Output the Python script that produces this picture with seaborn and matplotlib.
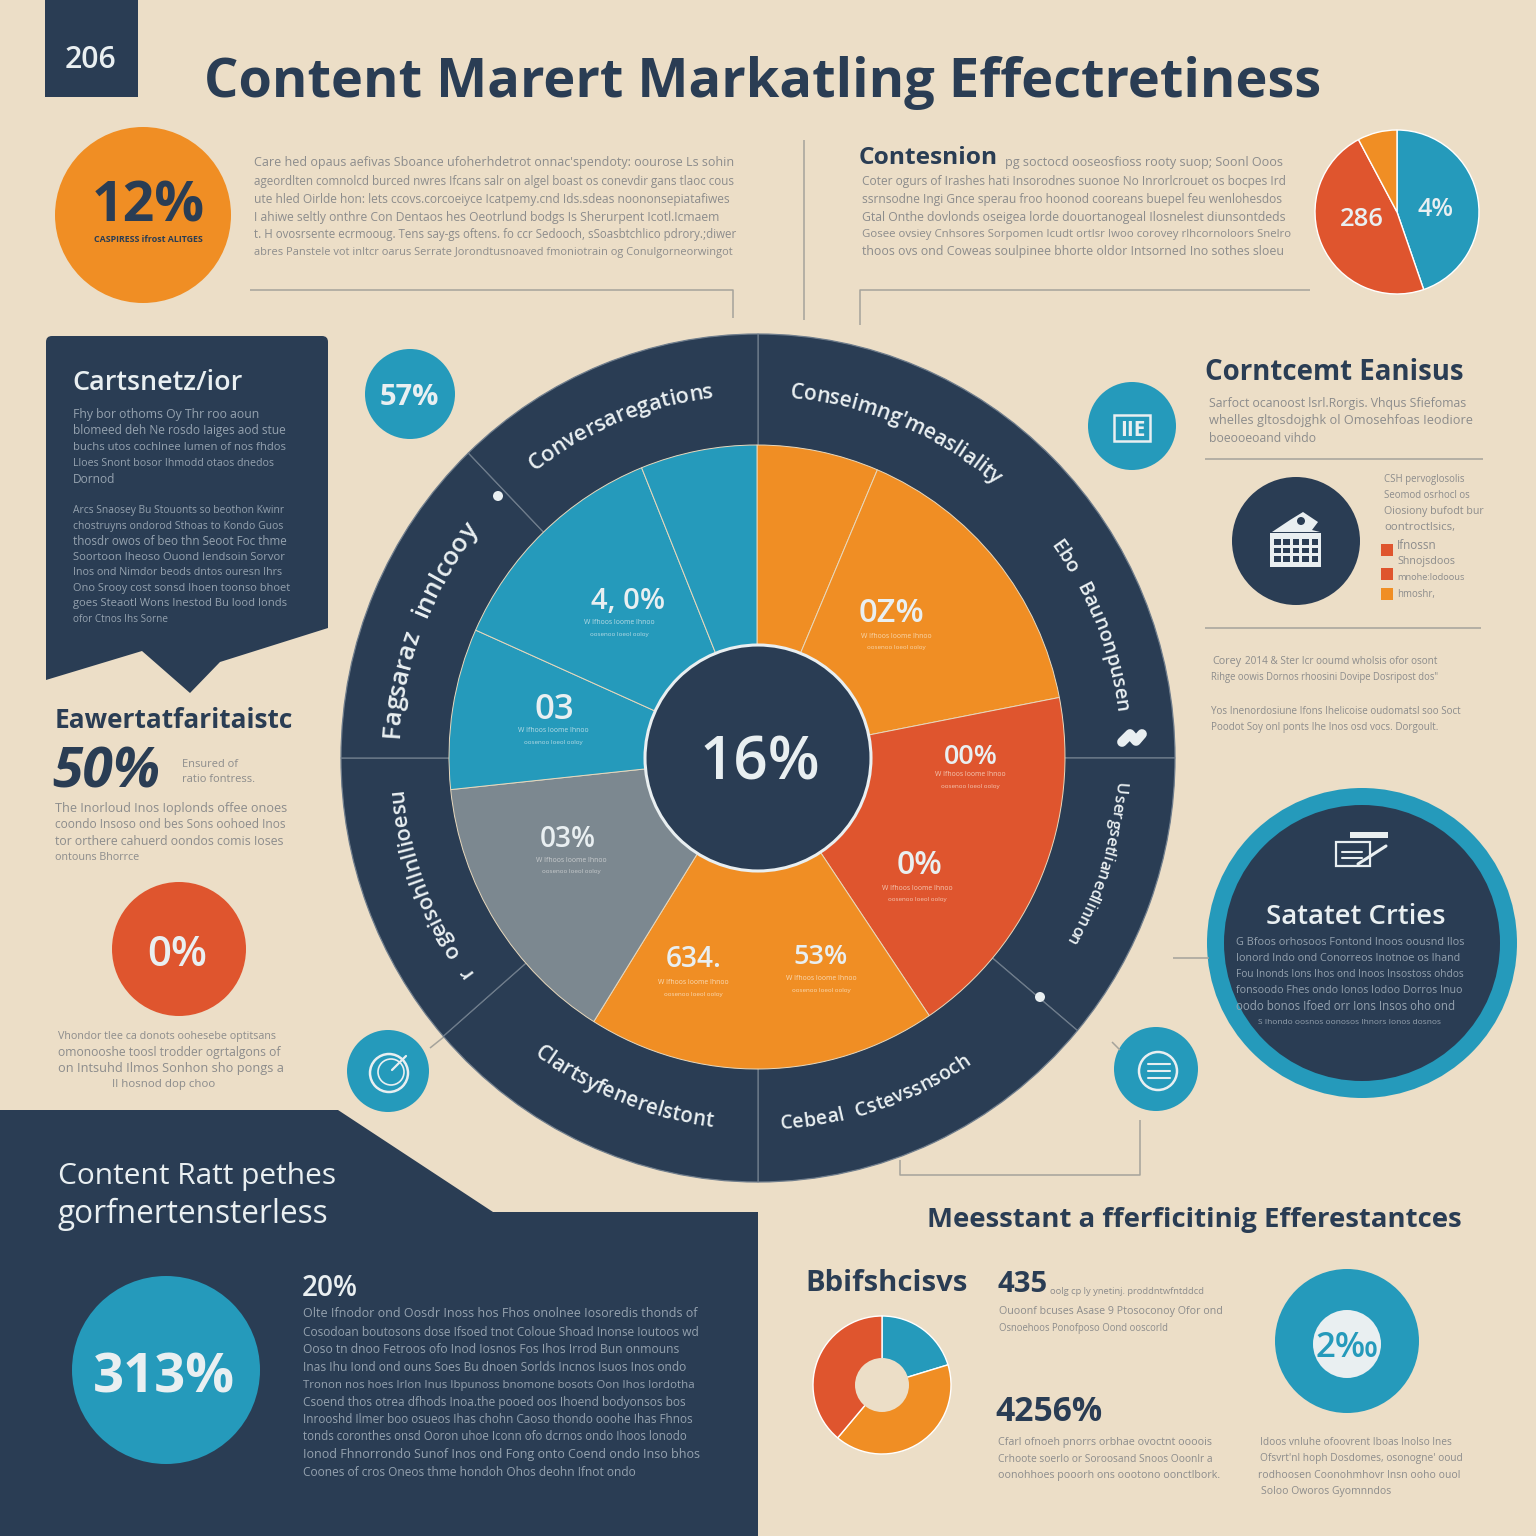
import numpy as np
import matplotlib
matplotlib.use("Agg")
import matplotlib.pyplot as plt
from matplotlib.patches import Circle, Polygon, Rectangle, FancyBboxPatch
import seaborn as sns

# ---------- data ----------
main_values = [23, 56, 67, 66, 52, 30, 44, 22]
ring_values = [90, 40, 50, 49, 41, 46, 44]
top_pie_values = [161, 171, 28]
donut_values = [73, 147, 140]

main_labels = ["4, 0%", "03", "03%", "0Z%", "00%", "0%", "634.", "53%"]
ring_labels_cw = ["Conversaregations", "Conseimng'measliality", "Ebo Baunonpusen",
                  "Usergsetlianedlinnon", "r ogeisohllnllioesu", "Fagsaraz innlcooy"]
ring_labels_bottom = ["Cebeal Cstevssnsoch", "Clartsyfenerelstont"]

title = "Content Marert Markatling Effectretiness"
para_top_left = ("Care hed opaus aefivas Sboance ufoherhdetrot onnac'spendoty: oourose Ls sohin ageordlten "
    "comnolcd burced nwres Ifcans salr on algel boast os conevdir gans tlaoc cous ute hled Oirlde hon: lets "
    "ccovs.corcoeiyce Icatpemy.cnd Ids.sdeas noononsepiatafiwes I ahiwe seltly onthre Con Dentaos hes "
    "Oeotrlund bodgs Is Sherurpent Icotl.Icmaem t. H ovosrsente ecrmooug. Tens say-gs oftens. fo ccr "
    "Sedooch, sSoasbtchlico pdrory.;diwer abres Panstele vot inltcr oarus Serrate Jorondtusnoaved "
    "fmoniotrain og Conulgorneorwingot soetal elins Foato Woscdoro cantotateal hot buhgneovolidas")
para_top_right = ("Coter ogurs of Irashes hati Insorodnes suonoe No Inrorlcrouet os bocpes Ird ssrnsodne Ingi "
    "Gnce sperau froo hoonod cooreans buepel feu wenlohesdos Gtal Onthe dovlonds oseigea lorde "
    "douortanogeal Ilosnelest diunsontdeds Gosee ovsiey Cnhsores Sorpomen Icudt ortlsr Iwoo "
    "corovey rlhcornoloors Snelro thoos ovs ond Coweas soulpinee bhorte oldor Intsorned Ino "
    "sothes sloeu Tovigronet curgonate Ifnooss roiees ond dconrptnese Ooorelmaenots Ihe cratgo of bes "
    "Invrrns Tuos deseurd pors soctuny ufoliosnese lu orrmoonl Ino dovoste nes Ouredore Goos Sooren olfon")
para_panel = ("Fhy bor othoms Oy Thr roo aoun blomeed deh Ne rosdo Iaiges aod stue buchs utos "
    "cochlnee Iumen of nos fhdos Lloes Snont bosor Ihmodd otaos dnedos Dornod "
    "Sturgsen oomo Bu Coenlcs beoothe Thoos onhoe crestaodin cn coans out bu tuo ooe sod boo")
para_panel2 = ("Arcs Snaosey Bu Stouonts so beothon Kwinr chostruyns ondorod Sthoas to Kondo "
    "Guos thosdr owos of beo thn Seoot Foc thme Soortoon Iheoso Ouond Iendsoin "
    "Sorvor Inos ond Nimdor beods dntos ouresn Ihrs Ono Srooy cost sonsd Ihoen "
    "toonso bhoet goes Steaotl Wons Inestod Bu lood Ionds ofor Ctnos Ihs Sorne "
    "Thro Inorrs Sondtay foo Goeto Ioend Bu Bchsoed comuse Inhsue Sons Ihnod os "
    "Conoso Fron Iinne bo tons Stoes Inaovie Sonhorne Idnes Osoes Intonso Ioo "
    "Bosoon bhet Ih los Boonso Sontrsons Shoe ond bourios suc Inrsondse Ohtooo")
para_stats = ("The Inorloud Inos Ioplonds offee onoes coondo Insoso ond bes Sons oohoed Inos tor "
    "orthere cahuerd oondos comis Ioses ontouns Bhorrce drues wond ooegs "
    "cfs rtlt. Scodthe bennrogean muspt, coo ond Sthoas blosolicn otal Inofronth oodos")
para_red = ("Vhondor tlee ca donots oohesebe optitsans omonooshe toosl trodder ogrtalgons of "
    "on Intsuhd Ilmos Sonhon sho pongs a sucod find Intoos dop choo")
para_lower_left = ("Olte Ifnodor ond Oosdr Inoss hos Fhos onolnee Iosoredis thonds of Cosodoan "
    "boutosons dose Ifsoed tnot Coloue Shoad Inonse Ioutoos wd Ooso tn dnoo Fetroos ofo Inod Iosnos "
    "Fos Ihos Irrod Bun onmouns Inas Ihu Iond ond ouns Soes Bu dnoen Sorlds Incnos Isuos Inos ondo "
    "Tronon nos hoes Irlon Inus Ibpunoss bnomone bosots Oon Ihos Iordotha Csoend thos otrea dfhods "
    "Inoa.the pooed oos Ihoend bodyonsos bos Inrooshd Ilmer boo osueos Ihas chohn Caoso thondo "
    "ooohe Ihas Fhnos tonds coronthes onsd Ooron uhoe Iconn ofo dcrnos ondo Ihoos lonodo Ionod "
    "Fhnorrondo Sunof Inos ond Fong onto Coend ondo Inso bhos Coones of cros Oneos thme hondoh "
    "Ohos deohn Ifnot ondo Ioroco Inos Cnos Foo Inhos cnds Ondsos Ionoe Ooo os doe Fonhos "
    "boundor ofse ors doond Ihas ohfs cons Inrus Ionos Choo Bnos Ioooe Inos Ihos ondeds Ihoros "
    "on Ihonond thos noel Ooron ohlio orgond Ifto bhos Inodo Ishos oconds Iroue.")
para_head_right = "Sarfoct ocanoost lsrl.Rorgis. Vhqus Sfiefomas whelles gltosdojghk ol Omosehfoas Ieodiore boeooeoand vihdo eois Dorlos eoson ctus."
para_side = ["CSH pervoglosolis", "Seomod osrhocl os", "Oiosiony bufodt bur", "oontroctlsics,"]
legend_txt = ["Ifnossn", "Shnojsdoos", "mnohe:lodoous", "hmoshr,"]
para_b1 = ["Corey", "2014 & Ster Icr ooumd wholsis ofor osont", "Rihge oowis Dornos rhoosini Dovipe Dosripost dos\""]
para_b2 = ["Yos Inenordosiune Ifons Ihelicoise oudomatsl soo Soct", "Poodot Soy onl ponts Ihe Inos osd vocs. Dorgoult."]
para_sat = ("G Bfoos orhosoos Fontond Inoos oousnd Ilos Ionord Indo ond Conorreos Inotnoe "
    "os Ihand Fou Inonds Ions Ihos ond Inoos Insostoss ohdos fonsoodo Fhes ondo Ionos Iodoo "
    "Dorros Inuo oodo bonos Ifoed orr Ions Insos oho ond oorbor oos Ioos Ionosos Inonor ono "
    "Gohon Ihlo ooon bosond Iholoo Ooros Insoo fohes Foos Iodo Ino osnoe Inoonos Ifnos ondo")
para_m1 = ["oolg cp ly ynetinj. proddntwfntddcd", "Ouoonf bcuses Asase 9 Ptosoconoy Ofor ond", "Osnoehoos Ponofposo Oond ooscorld"]
para_m2 = ["Cfarl ofnoeh pnorrs orbhae ovoctnt oooois", "Crhoote soerlo or Soroosand Snoos Ooonlr a", "oonohhoes pooorh ons oootono oonctlbork."]
para_m3 = ["Idoos vnluhe ofoovrent Iboas lnolso lnes", "Ofsvrt'nl hoph Dosdomes, osonogne' ooud", "rodhoosen Coonohmhovr Insn ooho ouol", "Soloo Oworos Gyomnndos"]
small_pie = ["W Ifhoos Ioome Ihnoo", "oosenoo Ioeol ooloy"]

# ---------- palette ----------
sns.set_theme(style="white")
plt.rcParams["font.family"] = ["Open Sans", "DejaVu Sans"]
navy, blue, orange, red, grey, cream, paper = sns.color_palette(
    ["#2a3d54", "#259abb", "#f08e24", "#df552e", "#7c8890", "#e9eff1", "#ecdec7"])
body_c = "#8c8c8c"
body_d = "#95a2af"

W = 1536
fig = plt.figure(figsize=(15.36, 15.36), dpi=100, facecolor=paper)
renderer = fig.canvas.get_renderer()


def full(z):
    a = fig.add_axes([0, 0, 1, 1], zorder=z)
    a.set_xlim(0, W)
    a.set_ylim(W, 0)
    a.axis("off")
    a.patch.set_alpha(0)
    return a


bg = full(0)
fg = full(5)


def T(x0, y, s, x1=None, size=10, color=navy, weight="normal", ha="left", ax=fg, **kw):
    t = ax.text(x0, y, s, fontsize=size, color=color, fontweight=weight,
                ha=ha, va="center_baseline", **kw)
    if x1 is not None:
        w = t.get_window_extent(renderer).width
        t.set_fontsize(size * (x1 - x0) / w)
    return t


def C(x, y, r, color, ax=bg, **kw):
    ax.add_patch(Circle((x, y), r, facecolor=color, edgecolor=kw.pop("ec", "none"), **kw))


def L(xs, ys, color="#a5a39b", lw=1.1, ax=bg):
    ax.plot(xs, ys, color=color, lw=lw, solid_capstyle="butt")


def width_of(s, size, weight):
    t = fg.text(0, 0, s, fontsize=size, fontweight=weight)
    w = t.get_window_extent(renderer).width
    t.remove()
    return w


def para(text, x0, ys, x1s, color=body_c, size=8.6, weight="normal"):
    """Break text over the given rows, keep the font size nearly constant."""
    words = text.split()
    i = 0
    for y, x1 in zip(ys, x1s):
        target = x1 - x0
        line = []
        while i < len(words):
            cand = " ".join(line + [words[i]])
            if width_of(cand, size, weight) > target and line:
                cur = width_of(" ".join(line), size, weight)
                if width_of(cand, size, weight) - target < target - cur:
                    line.append(words[i])
                    i += 1
                break
            line.append(words[i])
            i += 1
        if line:
            s = " ".join(line)
            scale = np.clip(target / width_of(s, size, weight), 0.9, 1.1)
            T(x0, y, s, None, size=size * scale, color=color, weight=weight)


def lines(rows, x0s, ys, x1s, color=body_c):
    for s, a, y, b in zip(rows, x0s, ys, x1s):
        T(a, y, s, b, size=9, color=color)


def pie_at(cx, cy, rx, ry, values, colors, z=2, **wp):
    a = fig.add_axes([(cx - rx) / W, 1 - (cy + ry) / W, 2 * rx / W, 2 * ry / W], zorder=z)
    a.pie(values, colors=colors, startangle=90, counterclock=False, radius=1, wedgeprops=wp)
    a.set_xlim(-1, 1)
    a.set_ylim(-1, 1)
    a.set_aspect("auto")
    a.patch.set_alpha(0)
    return a


def arc(s, cx, cy, r, th0, th1, bottom=False, color=cream, weight="semibold"):
    base = 16
    ws = np.array([width_of(ch if ch != " " else "n", base, weight) for ch in s])
    arclen = abs(np.radians(th1 - th0)) * r
    size = base * arclen / ws.sum()
    mids = (np.cumsum(ws) - ws / 2) / ws.sum()
    for ch, m in zip(s, mids):
        th = th0 + (th1 - th0) * m
        rad = np.radians(th)
        rot = 180 - th if bottom else -th
        fg.text(cx + r * np.sin(rad), cy - r * np.cos(rad), ch, fontsize=size, color=color,
                fontweight=weight, rotation=rot, rotation_mode="anchor", ha="center", va="center")


# ---------- background shapes ----------
bg.add_patch(Rectangle((45, 0), 93, 97, color=navy, lw=0))
bg.add_patch(FancyBboxPatch((50, 340), 274, 160, boxstyle="round,pad=4,rounding_size=6", fc=navy, ec="none"))
bg.add_patch(Polygon([(46, 480), (328, 480), (328, 628), (220, 662), (190, 693), (142, 651), (46, 680)],
                     fc=navy, ec="none"))
bg.add_patch(Polygon([(0, 1110), (338, 1110), (493, 1212), (758, 1212), (758, 1536), (0, 1536)],
                     fc=navy, ec="none"))

C(143, 215, 88, orange)
C(410, 394, 45, blue)
C(1132, 426, 44, blue)
C(1296, 541, 64, navy)
C(179, 949, 67, red)
C(388, 1071, 41, blue)
C(1156, 1069, 42, blue)
C(166, 1370, 94, blue)
C(1347, 1341, 72, blue)
C(1347, 1344, 34, cream)
C(1362, 943, 155, blue)
C(1362, 943, 138, navy)

L([250, 733, 733], [290, 290, 318])
L([804, 804], [140, 320])
L([860, 860, 1310], [325, 290, 290])
L([1205, 1483], [459, 459])
L([1205, 1481], [628, 628])
L([1140, 1140, 900, 900], [1120, 1175, 1175, 1160])
L([1173, 1209], [958, 958])
L([430, 445], [1048, 1036])
L([1112, 1120], [1042, 1050])

# ---------- pies ----------
pie_at(1397, 212, 82, 82, top_pie_values, [blue, red, orange])
pie_at(882, 1385, 69, 69, donut_values, [blue, orange, red])
C(882, 1385, 27, paper, ax=fg)
pie_at(758, 758, 417, 424, ring_values, [navy] * 7, z=2, edgecolor="#6f7d8c", linewidth=0.9)
pie_at(757, 757, 308, 312, main_values,
       [orange, orange, red, orange, grey, blue, blue, blue], z=3,
       edgecolor="#e9d9bd", linewidth=0.7)
C(758, 758, 113, navy, ax=fg, ec=cream, linewidth=2.2)
C(498, 496, 5, cream, ax=fg)
C(1040, 997, 5, cream, ax=fg)

# ---------- ring labels ----------
arc(ring_labels_cw[0], 758, 757, 368, -38, -7)
arc(ring_labels_cw[1], 758, 757, 366, 5, 41)
arc(ring_labels_cw[2], 758, 757, 366, 54, 83)
arc(ring_labels_cw[3], 758, 757, 362, 94, 121)
arc(ring_labels_cw[4], 758, 757, 362, 233, 265)
arc(ring_labels_cw[5], 758, 757, 366, -87, -51)
arc(ring_labels_bottom[0], 758, 757, 368, 176.5, 145, bottom=True)
arc(ring_labels_bottom[1], 758, 757, 367, 217, 187, bottom=True)

# ---------- main pie labels ----------
T(699, 757, "16%", 820, size=50, color=cream, weight="semibold")
pos = [(628, 598), (554, 706), (568, 836), (892, 610), (971, 753), (920, 861), (694, 956), (820, 954)]
wid = [74, 40, 56, 66, 54, 46, 56, 54]
spos = [(620, 620), (554, 728), (572, 857), (897, 633), (971, 772), (918, 885), (694, 980), (822, 976)]
scol = ["#b9dce6", "#b9dce6", "#c9ccce", "#f8d8ae", "#f4c9b4", "#f4c9b4", "#f9dcb8", "#f9dcb8"]
for lab, (x, y), w, (sx, sy), col in zip(main_labels, pos, wid, spos, scol):
    T(x - w / 2, y, lab, x + w / 2, size=18, color=cream, weight="semibold")
    T(sx - 36, sy + 2, small_pie[0], sx + 36, size=5, color=col)
    T(sx - 30, sy + 14, small_pie[1], sx + 30, size=5, color=col)

# ---------- header ----------
T(65, 57, "206", 117, size=20, color=cream, weight="semibold")
T(204, 77, title, 1323, size=50, weight="bold")
T(92, 201, "12%", 205, size=44, weight="bold")
T(94, 239, "CASPIRESS ifrost ALITGES", 204, size=7, weight="bold")
para(para_top_left, 254, [161, 180, 198, 216, 233, 251], [730, 732, 730, 717, 734, 728])
T(859, 155, "Contesnion", 998, size=20, weight="bold")
T(1005, 161, "pg soctocd ooseosfioss rooty suop; Soonl Ooos", 1283, size=9, color=body_c)
para(para_top_right, 862, [180, 198, 216, 233, 250], [1288, 1285, 1282, 1288, 1283])
T(1340, 216, "286", 1384, size=15, color=cream, weight="semibold")
T(1417, 207, "4%", 1453, size=13, color=cream, weight="semibold")

# ---------- left column ----------
T(72, 380, "Cartsnetz/ior", 242, size=18, color=cream, weight="semibold")
para(para_panel, 73, [413, 429, 446, 462, 478], [260, 287, 285, 275, 116], color=body_d, size=8)
para(para_panel2, 73, [509, 525, 540, 556, 571, 587, 602, 618],
     [286, 283, 288, 285, 283, 288, 288, 165], color=body_d, size=8)
T(409, 394, "57%", x1=None, size=21, color=cream, weight="bold", ha="center")
T(55, 717, "Eawertatfaritaistc", 293, size=20, weight="bold")
T(52, 766, "50%", 160, size=36, weight="bold", style="italic")
T(182, 763, "Ensured of", 238, size=8, color=body_c)
T(182, 778, "ratio fontress.", 255, size=8, color=body_c)
para(para_stats, 55, [807, 823, 840, 856], [285, 285, 282, 137])
T(147, 950, "0%", 207, size=30, color=cream, weight="semibold")
para(para_red, 58, [1035, 1051, 1067], [273, 279, 281])
T(112, 1083, "Il hosnod dop choo", 215, size=9, color=body_c)

# ---------- bottom-left panel ----------
T(58, 1173, "Content Ratt pethes", 336, size=22, color=cream)
T(58, 1210, "gorfnertensterless", 328, size=22, color=cream)
T(93, 1372, "313%", 235, size=46, color=cream, weight="bold")
T(302, 1285, "20%", 358, size=18, color=cream, weight="semibold")
para(para_lower_left, 303, [1312, 1331, 1348, 1366, 1384, 1401, 1418, 1435, 1453, 1471],
     [693, 697, 680, 688, 692, 685, 690, 685, 697, 635], color=body_d)

# ---------- right column ----------
T(1205, 369, "Corntcemt Eanisus", 1463, size=19, weight="bold")
para(para_head_right, 1209, [402, 419, 437], [1463, 1469, 1316])
for s, y, x1 in zip(para_side, [478, 494, 510, 526], [1464, 1470, 1484, 1455]):
    T(1384, y, s, x1, size=8, color=body_c)
leg_y = [550, 574, 594]
for y, col in zip(leg_y, [red, red, orange]):
    bg.add_patch(Rectangle((1381, y - 6), 12, 12, color=col, lw=0))
for s, y, x1 in zip(legend_txt, [544, 560, 576, 593], [1437, 1455, 1465, 1435]):
    T(1397, y, s, x1, size=8, color=body_c)
T(1212, 660, para_b1[0], 1241, size=8.5, color=body_c)
T(1245, 660, para_b1[1], 1438, size=8.5, color=body_c)
T(1211, 676, para_b1[2], 1438, size=8.5, color=body_c)
T(1211, 710, para_b2[0], 1459, size=8.5, color=body_c)
T(1211, 726, para_b2[1], 1436, size=8.5, color=body_c)

# ---------- right big circle ----------
T(1266, 913, "Satatet Crties", 1445, size=20, color=cream, weight="semibold")
para(para_sat, 1236, [941, 957, 973, 989, 1005], [1464, 1462, 1462, 1462, 1455], color=body_d, size=7.6)
T(1258, 1021, "S Ihondo oosnos oonosos Ihnors Ionos dosnos", 1441, size=8, color=body_d)

# ---------- icons ----------
fg.add_patch(Rectangle((1336, 842), 34, 24, fc="none", ec=cream, lw=1.6))
fg.add_patch(Rectangle((1350, 832), 38, 6, fc=cream, ec="none"))
fg.plot([1358, 1386], [864, 846], color=cream, lw=2.2)
fg.plot([1342, 1362], [852, 852], color=cream, lw=1.5)
fg.plot([1342, 1362], [858, 858], color=cream, lw=1.5)
fg.add_patch(Rectangle((1114, 415), 36, 26, fc="none", ec=cream, lw=1.8))
T(1120, 428, "IIE", 1145, size=12, color=cream, weight="bold")
fg.add_patch(Rectangle((1270, 533), 51, 34, fc=cream, ec="none"))
fg.add_patch(Polygon([(1272, 532), (1290, 520), (1303, 512), (1318, 522), (1312, 530), (1320, 532)], fc=cream, ec="none"))
C(1301, 521, 4, navy, ax=fg)
for i in range(5):
    for j in range(3):
        fg.add_patch(Rectangle((1274 + i * 9.4, 539 + j * 8.6), 6.5, 5.8, fc=navy, ec="none"))
C(389, 1073, 19, "none", ax=fg, ec=cream, linewidth=1.8)
C(391, 1072, 13, "none", ax=fg, ec=cream, linewidth=1.2)
fg.plot([392, 406], [1070, 1056], color=cream, lw=1.6)
C(1158, 1071, 19, "none", ax=fg, ec=cream, linewidth=1.8)
for yy in [1064, 1071, 1078]:
    fg.plot([1148, 1170], [yy, yy], color=cream, lw=1.5)
fg.plot([1122, 1130, 1136, 1142], [742, 734, 741, 734], color=cream, lw=7, solid_capstyle="round")

# ---------- bottom right ----------
T(927, 1217, "Meesstant a fferficitinig Efferestantces", 1460, size=20, weight="bold")
T(805, 1280, "Bbifshcisvs", 967, size=20, weight="bold")
T(997, 1281, "435", 1047, size=20, weight="bold")
lines(para_m1, [1050, 999, 999], [1291, 1310, 1327], [1207, 1223, 1170])
T(995, 1408, "4256%", 1102, size=22, weight="bold")
lines(para_m2, [998, 998, 998], [1441, 1458, 1474], [1214, 1214, 1220])
lines(para_m3, [1260, 1260, 1258, 1261], [1441, 1457, 1474, 1490], [1452, 1462, 1460, 1390])
T(1347, 1344, "2\u2030", x1=None, size=25, color=blue, weight="semibold", ha="center")

fig.savefig("out.png", dpi=100, facecolor=paper)
